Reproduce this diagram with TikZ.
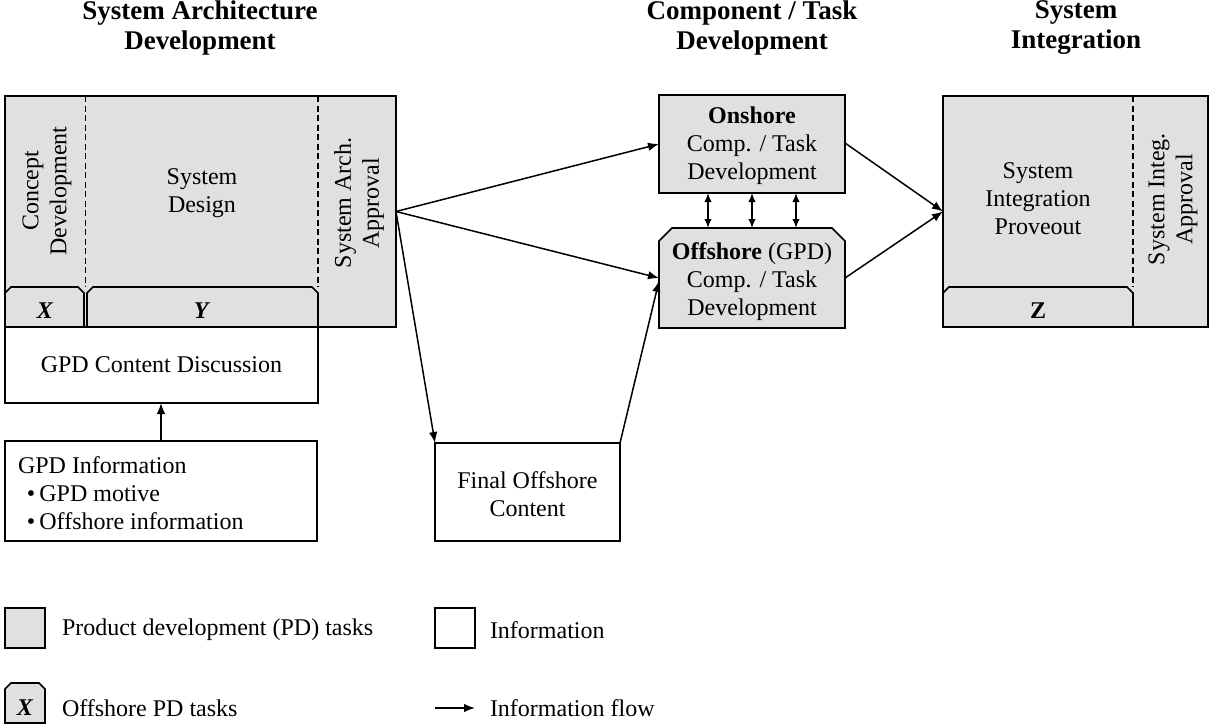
\documentclass[tikz,border=0pt]{standalone}
\usepackage{fontspec}
\setmainfont{Liberation Serif}
\usetikzlibrary{arrows.meta,calc}
\definecolor{pdgray}{gray}{0.88}
% filled box with its two upper corners cut off: #1 node name, #2 cut size
\newcommand\chambox[2]{%
  \filldraw[boxline, fill=pdgray] (#1.south west) -- ($(#1.north west)+(0,#2)$)
    -- ($(#1.north west)+(#2,0)$) -- ($(#1.north east)+(-#2,0)$)
    -- ($(#1.north east)+(0,#2)$) -- (#1.south east) -- cycle;}
\begin{document}
\begin{tikzpicture}[x=1pt,y=-1pt,
  font=\fontsize{24}{28}\selectfont,
  every node/.style={inner sep=0pt, outer sep=0pt},
  boxline/.style={line width=1.6pt, line join=miter},
  pdbox/.style={boxline, draw, fill=pdgray, rectangle},
  infobox/.style={boxline, draw, fill=white, rectangle},
  slot/.style={rectangle, draw=none},
  divider/.style={line width=1.3pt, dash pattern=on 6pt off 3.5pt},
  flow/.style={line width=1.5pt, -{Latex[length=11pt,width=8.5pt]}},
  biflow/.style={line width=1.5pt, {Latex[length=9pt,width=7.5pt]}-{Latex[length=9pt,width=7.5pt]}},
  title/.style={font=\fontsize{27}{30}\selectfont\bfseries, align=center},
  txt/.style={align=center}
]
\useasboundingbox (0,0) rectangle (1213,724);

% column titles
\node[title] (t1) at (200,28) {System Architecture\\Development};
\node[title] (t2) at (752,28) {Component / Task\\Development};
\node[title] (t3) at (1076,28) {System\\Integration};

% system architecture development block
\node[pdbox, minimum width=391pt, minimum height=231pt] (sad) at (200.5,211.5) {};
\draw[divider] (85.5,96) -- (85.5,287);
\draw[divider] (318,96) -- (318,287);
\node[slot, minimum width=79pt, minimum height=40pt] (xb) at (44.5,307) {};
\node[slot, minimum width=231pt, minimum height=40pt] (yb) at (202.5,307) {};
\chambox{xb}{6}
\chambox{yb}{6}
\node[txt, rotate=90] (cdev) at (47,191) {Concept\\Development};
\node[txt] (sdes) at (202,193) {System\\Design};
\node[txt, rotate=90] (sapp) at (359,203) {System Arch.\\Approval};
\node (xl) at (45,311) {\textbf{\textit{X}}};
\node (yl) at (202,311) {\textbf{\textit{Y}}};

% information feeding the architecture phase
\node[infobox, minimum width=313pt, minimum height=76pt] (cd) at (161.5,365) {};
\node (cdt) at (cd.center) {GPD Content Discussion};
\node[infobox, minimum width=312pt, minimum height=100pt] (info) at (161,491) {};
\node[align=left, anchor=west] (infot) at (18,493)
  {GPD Information\\\hspace{9pt}\textbullet\,GPD motive\\\hspace{9pt}\textbullet\,Offshore information};
\draw[flow] (info.north) -- (info.north |- cd.south);

% component / task development
\node[pdbox, minimum width=186pt, minimum height=98pt] (on) at (752,144) {};
\node[txt] (ont) at (752,146) {\textbf{Onshore}\\Comp. / Task\\Development};
\node[slot, minimum width=186pt, minimum height=100pt] (off) at (752,278) {};
\chambox{off}{13}
\node[txt] (offt) at (752,282) {\textbf{Offshore} (GPD)\\Comp. / Task\\Development};
\foreach \dx in {-44,0,44}
  \draw[biflow] ([xshift=\dx pt]on.south) -- ([xshift=\dx pt]on.south |- off.north);

% final offshore content
\node[infobox, minimum width=185pt, minimum height=98pt] (fin) at (527.5,492) {};
\node[txt] (fint) at (527.5,494) {Final Offshore\\Content};

% system integration block
\node[pdbox, minimum width=265pt, minimum height=231pt] (sir) at (1075.5,211.5) {};
\draw[divider] (1133,96) -- (1133,287);
\node[slot, minimum width=190pt, minimum height=40pt] (zb) at (1038,307) {};
\chambox{zb}{6}
\node[txt] (sipt) at (1038,199) {System\\Integration\\Proveout};
\node[txt, rotate=90] (siap) at (1173,199) {System Integ.\\Approval};
\node (zl) at (1038,311) {\textbf{Z}};

% information flows
\draw[flow] (sad.east) -- (on.west);
\draw[flow] (sad.east) -- (off.west);
\draw[flow] (sad.east) -- (fin.north west);
\draw[flow] (fin.north east) -- ([yshift=-3pt]off.west);
\draw[flow] ([yshift=1pt]on.east) -- (sir.west);
\draw[flow] (off.east) -- (sir.west);

% legend
\node[pdbox, minimum width=40pt, minimum height=40pt] (lg1) at (25,628) {};
\node[anchor=west] (lg1t) at (62,630) {Product development (PD) tasks};
\node[infobox, minimum width=40pt, minimum height=40pt] (lg2) at (455,628) {};
\node[anchor=west] (lg2t) at (490,630) {Information};
\node[slot, minimum width=40pt, minimum height=40pt] (lg3) at (25,703) {};
\chambox{lg3}{6}
\node (lg3x) at (25,708) {\textbf{\textit{X}}};
\node[anchor=west] (lg3t) at (62,708) {Offshore PD tasks};
\coordinate (fa) at (435,708);
\coordinate (fb) at (475,708);
\draw[flow] (fa) -- (fb);
\node[anchor=west] (lg4t) at (490,708) {Information flow};
\end{tikzpicture}
\end{document}
